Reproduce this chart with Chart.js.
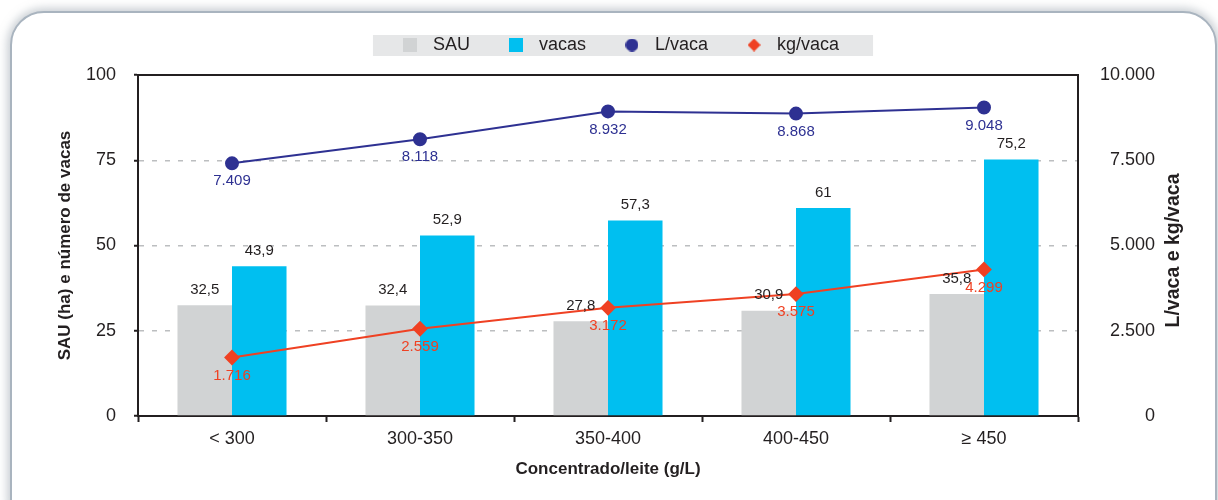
<!DOCTYPE html>
<html lang="pt">
<head>
<meta charset="utf-8">
<title>Concentrado/leite</title>
<script src="https://cdn.jsdelivr.net/npm/chart.js@4.4.1/dist/chart.umd.min.js"></script>
<style>
  html, body { margin: 0; padding: 0; background: #fff; }
  #wrap { position: relative; width: 1218px; height: 500px; overflow: hidden; }
  #frame { position: absolute; left: 10px; top: 11px; width: 1203px; height: 520px; border: 2px solid #a9b4bf;
           border-radius: 34px; box-shadow: 0 0 9px 3px rgba(150,160,170,.5); background: #fff; }
  #chart { position: absolute; left: 0; top: 0; }
</style>
</head>
<body>
<div id="wrap">
  <div id="frame"></div>
  <canvas id="chart" width="1218" height="500"></canvas>
</div>
<script>
const categories = ["< 300", "300-350", "350-400", "400-450", "≥ 450"];
const sau = [32.5, 32.4, 27.8, 30.9, 35.8];
const vacas = [43.9, 52.9, 57.3, 61, 75.2];
const litrosVaca = [7409, 8118, 8932, 8868, 9048];
const kgVaca = [1716, 2559, 3172, 3575, 4299];
const leftTicks = [0, 25, 50, 75, 100];
const rightTicks = [0, 2500, 5000, 7500, 10000];

const FONT = "'Liberation Sans', Arial, Helvetica, sans-serif";
const INK = "#231f20";
Chart.defaults.font.family = FONT;

const fmtDec = v => String(v).replace(".", ",");
const fmtThousand = v => String(v).replace(/\B(?=(\d{3})+(?!\d))/g, ".");

// small legend markers, drawn once
function marker(shape, size, color) {
  const c = document.createElement("canvas");
  c.width = c.height = size;
  const g = c.getContext("2d");
  const h = size / 2;
  g.fillStyle = color;
  g.beginPath();
  if (shape === "circle") g.arc(h, h, h, 0, Math.PI * 2);
  else if (shape === "rectRot") { g.moveTo(h, 0); g.lineTo(size, h); g.lineTo(h, size); g.lineTo(0, h); g.closePath(); }
  else g.rect(0, 0, size, size);
  g.fill();
  return c;
}

// grey band behind the legend
const legendBand = {
  id: "legendBand",
  beforeDraw(chart) {
    const boxes = chart.legend && chart.legend.legendHitBoxes;
    if (!boxes || !boxes.length) return;
    const first = boxes[0], last = boxes[boxes.length - 1];
    const x0 = first.left - 23, x1 = last.left + last.width + 34;
    const ctx = chart.ctx;
    ctx.save();
    ctx.fillStyle = "#e6e7e8";
    ctx.fillRect(x0, first.top - 1, x1 - x0, first.height + 3);
    ctx.restore();
  }
};

// value labels over bars / under points
const valueLabels = {
  id: "valueLabels",
  afterDatasetsDraw(chart) {
    const ctx = chart.ctx;
    ctx.save();
    ctx.font = "15px " + FONT;
    ctx.textAlign = "center";
    chart.data.datasets.forEach((ds, i) => {
      chart.getDatasetMeta(i).data.forEach((el, j) => {
        const v = ds.data[j];
        if (ds.type === "line") {
          ctx.fillStyle = ds.borderColor;
          ctx.textBaseline = "middle";
          ctx.fillText(fmtThousand(v), el.x, el.y + 18);
        } else {
          ctx.fillStyle = INK;
          ctx.textBaseline = "bottom";
          ctx.fillText(fmtDec(v), el.x, el.y - 8);
        }
      });
    });
    ctx.restore();
  }
};

// right axis title reads bottom-to-top like the left one
const rightTitle = {
  id: "rightTitle",
  afterDraw(chart) {
    const s = chart.scales.y1, a = chart.chartArea;
    const ctx = chart.ctx;
    ctx.save();
    ctx.translate(s.right + 19, (a.top + a.bottom) / 2 + 5);
    ctx.rotate(-Math.PI / 2);
    ctx.font = "bold 19.5px " + FONT;
    ctx.fillStyle = INK;
    ctx.textAlign = "center";
    ctx.textBaseline = "middle";
    ctx.fillText("L/vaca e kg/vaca", 0, 0);
    ctx.restore();
  }
};

const datasets = [
  { type: "bar", label: "SAU", data: sau, backgroundColor: "#d1d3d4", pointStyle: "rect", yAxisID: "y", order: 2 },
  { type: "bar", label: "vacas", data: vacas, backgroundColor: "#00bff0", pointStyle: "rect", yAxisID: "y", order: 2 },
  { type: "line", label: "L/vaca", data: litrosVaca, borderColor: "#2e3192", backgroundColor: "#2e3192",
    borderWidth: 2, pointStyle: "circle", pointRadius: 6, yAxisID: "y1", order: 1 },
  { type: "line", label: "kg/vaca", data: kgVaca, borderColor: "#ef4123", backgroundColor: "#ef4123",
    borderWidth: 2, pointStyle: "rectRot", pointRadius: 6.5, yAxisID: "y1", order: 1 }
];
const legendMarks = [
  marker("rect", 14, "#d1d3d4"),
  marker("rect", 14, "#00bff0"),
  marker("circle", 13, "#2e3192"),
  marker("rectRot", 13, "#ef4123")
];

new Chart(document.getElementById("chart"), {
  data: { labels: categories, datasets },
  options: {
    responsive: false,
    animation: false,
    layout: { padding: { top: 4, left: 80, right: 63, bottom: 14 } },
    datasets: { bar: { categoryPercentage: 0.58, barPercentage: 1 } },
    plugins: {
      tooltip: { enabled: false },
      legend: {
        position: "top",
        labels: {
          usePointStyle: true, pointStyleWidth: 28, boxHeight: 11, padding: 32, color: INK, font: { size: 18 },
          sort: (a, b) => a.datasetIndex - b.datasetIndex,
          generateLabels: chart => Chart.defaults.plugins.legend.labels.generateLabels(chart)
            .map(item => Object.assign(item, { pointStyle: legendMarks[item.datasetIndex] }))
        }
      }
    },
    scales: {
      x: {
        type: "category", position: "bottom", offset: true,
        grid: { drawOnChartArea: false, offset: true, tickLength: 6, tickColor: INK, tickWidth: 2 },
        border: { color: INK, width: 2 },
        ticks: { color: INK, padding: 6, font: { size: 18 } },
        title: { display: true, text: "Concentrado/leite (g/L)", color: INK,
                 font: { size: 17, weight: "bold" }, padding: { top: 0, bottom: 6 } },
        afterFit: s => { s.height = 70; }
      },
      x2: {
        type: "category", position: "top", offset: true,
        grid: { display: false }, ticks: { display: false },
        border: { color: INK, width: 2 },
        afterFit: s => { s.height = 11; }
      },
      y: {
        position: "left", min: 0, max: 100,
        afterBuildTicks: s => { s.ticks = leftTicks.map(v => ({ value: v })); },
        grid: {
          color: c => (c.tick && c.tick.value > 0 && c.tick.value < 100) ? "#bcbec0" : "rgba(0,0,0,0)",
          lineWidth: 1.5, tickLength: 4, tickColor: INK, tickWidth: 2
        },
        border: { color: INK, width: 2, dash: [5, 8] },
        ticks: { color: INK, padding: 18, font: { size: 18 } },
        title: { display: true, text: "SAU (ha) e número de vacas", color: INK,
                 font: { size: 17, weight: "bold" }, padding: { top: -25, bottom: 0 } },
        afterFit: s => { s.width = 58; }
      },
      y1: {
        position: "right", min: 0, max: 10000,
        afterBuildTicks: s => { s.ticks = rightTicks.map(v => ({ value: v })); },
        grid: { display: false },
        border: { color: INK, width: 2 },
        ticks: { color: INK, crossAlign: "far", font: { size: 18 }, callback: v => fmtThousand(v) },
        afterFit: s => { s.width = 77; }
      }
    }
  },
  plugins: [legendBand, valueLabels, rightTitle]
});
</script>
</body>
</html>
